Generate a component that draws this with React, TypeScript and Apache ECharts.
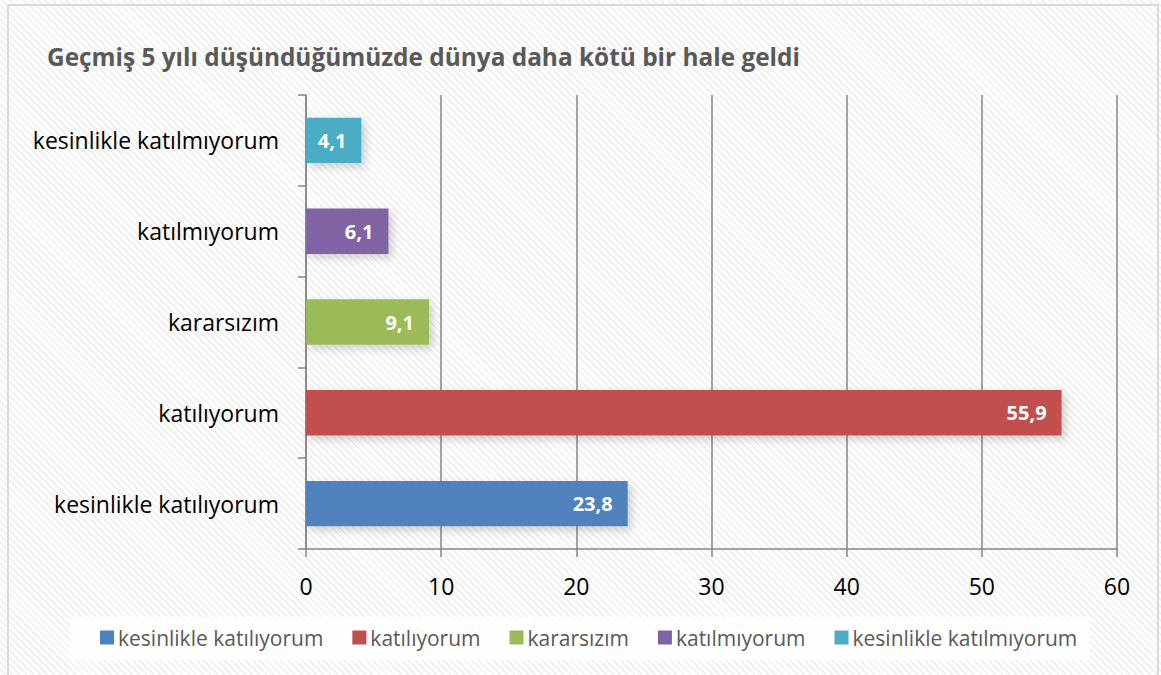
import React, { useEffect, useRef } from "react";
import * as echarts from "echarts";

const titleText = "Geçmiş 5 yılı düşündüğümüzde dünya daha kötü bir hale geldi";
const categories = [
  "kesinlikle katılıyorum",
  "katılıyorum",
  "kararsızım",
  "katılmıyorum",
  "kesinlikle katılmıyorum",
];
const values = [23.8, 55.9, 9.1, 6.1, 4.1];
const colors = ["#4F81BD", "#C0504D", "#9BBB59", "#8064A2", "#4BACC6"];
const xTicks = [0, 10, 20, 30, 40, 50, 60];

const FONT = "'Open Sans', 'Noto Sans', sans-serif";

export default function App() {
  const ref = useRef<HTMLDivElement>(null);
  useEffect(() => {
    document.body.style.margin = "0";
    const chart = echarts.init(ref.current!, null, { renderer: "svg" });
    const series = categories.map((name, i) => ({
      name,
      type: "bar",
      stack: "all",
      barWidth: "50%",
      data: categories.map((_, j) => (j === i ? values[i] : "-")),
      itemStyle: {
        color: colors[i],
        shadowBlur: 10,
        shadowColor: "rgba(0,0,0,0.18)",
        shadowOffsetX: 4,
        shadowOffsetY: 4,
      },
      label: {
        show: true,
        position: "insideRight",
        distance: 15,
        color: "#fff",
        fontWeight: "bold",
        fontSize: 20,
        fontFamily: FONT,
        formatter: (p: any) => String(p.value).replace(".", ","),
      },
    }));
    chart.setOption({
      animation: false,
      textStyle: { fontFamily: FONT },
      title: {
        text: titleText,
        left: 42,
        top: 39,
        textStyle: { fontSize: 24.4, fontWeight: "bold", color: "#595959", fontFamily: FONT },
      },
      graphic: [
        {
          type: "rect",
          shape: { x: 8, y: 5, width: 1150, height: 690 },
          style: { fill: "none", stroke: "#d9d9d9", lineWidth: 2 },
          silent: true,
        },
        {
          type: "rect",
          shape: { x: 70, y: 617, width: 1020, height: 43 },
          style: { fill: "rgba(255,255,255,0.85)" },
          silent: true,
          z: -1,
        },
      ],
      legend: {
        top: 622,
        left: 95,
        itemWidth: 14,
        itemHeight: 14,
        itemGap: 29,
        icon: "rect",
        data: categories,
        textStyle: { fontSize: 21, color: "#595959", fontFamily: FONT, padding: [0, 0, 0, -1] },
      },
      grid: { left: 306, right: 44, top: 95, bottom: 126 },
      xAxis: {
        type: "value",
        min: 0,
        max: 60,
        interval: 10,
        axisLine: { show: true, lineStyle: { color: "#868686", width: 1.5 } },
        axisTick: { show: true, length: 8, lineStyle: { color: "#868686", width: 1.5 } },
        splitLine: { show: true, lineStyle: { color: "#868686", width: 1.5 } },
        axisLabel: {
          fontSize: 23,
          color: "#000",
          margin: 25,
          fontFamily: FONT,
          formatter: (v: number) => (xTicks.includes(v) ? String(v) : ""),
        },
      },
      yAxis: {
        type: "category",
        data: categories,
        axisLine: { show: true, lineStyle: { color: "#868686", width: 1.5 } },
        axisTick: { show: true, length: 8, lineStyle: { color: "#868686", width: 1.5 } },
        axisLabel: { fontSize: 23, color: "#000", margin: 27, fontFamily: FONT },
      },
      series,
    });
    return () => chart.dispose();
  }, []);
  return (
    <div
      ref={ref}
      style={{
        width: 1161,
        height: 675,
        background:
          "repeating-linear-gradient(45deg, #ffffff 0px, #ffffff 3px, #f1f1f1 3px, #f1f1f1 5px)",
      }}
    />
  );
}
